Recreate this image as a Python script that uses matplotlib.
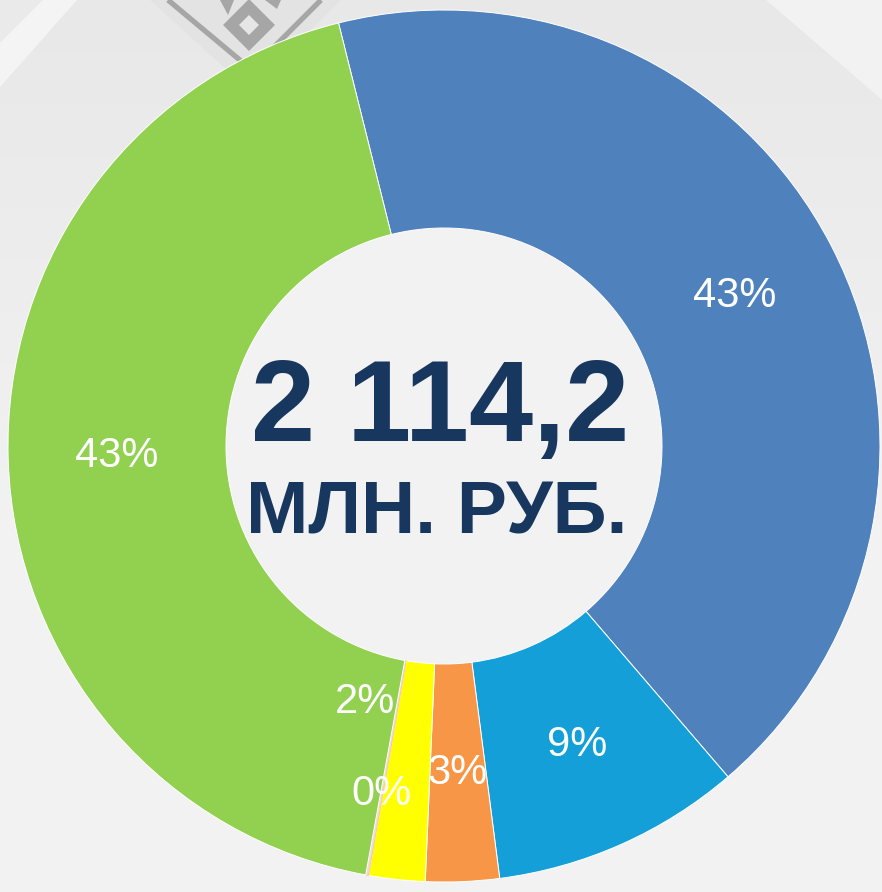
import numpy as np
import matplotlib.pyplot as plt
from matplotlib.patches import Polygon, Circle

# budget structure, mln rub (total 2 114,2)
values = [900.6, 195.6, 57.6, 44.1, 2.2, 914.1]
colors = ["#4F81BD", "#159FD9", "#F79646", "#FFFF00", "#F2DCDB", "#92D050"]
total_text = "2 114,2"
unit_text = "МЛН. РУБ."

W, H = 882, 892
BG = "#F2F2F2"
NAVY = "#17375E"


def py(y):
    # pixel row (from top) -> data y
    return H - y


fig = plt.figure(figsize=(W / 100, H / 100), dpi=100, facecolor=BG)
ax = fig.add_axes([0, 0, 1, 1])
ax.set_facecolor(BG)

# --- background: big faint diamond with a soft gradient
diamond = Polygon([(-420, py(560)), (375, py(-337)), (1300, py(460)), (375, py(1400))],
                  closed=True, facecolor="none", edgecolor="none")
ax.add_patch(diamond)
grad = np.linspace(0, 1, 256).reshape(-1, 1)
img = ax.imshow(grad, extent=(0, W, py(520), H), cmap=plt.matplotlib.colors.LinearSegmentedColormap.from_list(
    "bg", ["#F2F2F2", "#E8E8E8"]), aspect="auto", zorder=0, origin="lower")
img.set_clip_path(diamond)

# top-left corner bands
ax.add_patch(Polygon([(0, py(0)), (43, py(0)), (0, py(43))],
                     facecolor="#EAEAEA", edgecolor="none", zorder=1))
ax.add_patch(Polygon([(0, py(43)), (43, py(0)), (77, py(0)), (0, py(87))],
                     facecolor="#F4F4F4", edgecolor="none", zorder=1))

# ornament at the top
ax.add_patch(Polygon([(150, py(0)), (340, py(0)), (251, py(92))],
                     facecolor="#E3E3E3", edgecolor="none", zorder=1))
ax.plot([168, 253], [py(0), py(71)], color="#A6A6A6", lw=3.8, solid_capstyle="butt", zorder=2)
ax.plot([321, 249], [py(0), py(72)], color="#A6A6A6", lw=3.8, solid_capstyle="butt", zorder=2)
cx, cy = 249, 25
ax.add_patch(Polygon([(cx - 26, py(cy)), (cx, py(cy - 26)), (cx + 26, py(cy)), (cx, py(cy + 26))],
                     facecolor="#A6A6A6", edgecolor="none", zorder=2))
ax.add_patch(Polygon([(cx - 10, py(cy)), (cx, py(cy - 10)), (cx + 10, py(cy)), (cx, py(cy + 10))],
                     facecolor="#E6E6E6", edgecolor="none", zorder=3))
ax.add_patch(Polygon([(220, py(0)), (234, py(0)), (228, py(15))],
                     facecolor="#A6A6A6", edgecolor="none", zorder=2))
ax.add_patch(Polygon([(265, py(0)), (281, py(0)), (277, py(9))],
                     facecolor="#A6A6A6", edgecolor="none", zorder=2))

# --- donut
center = (444, py(446))
R = 436
ax.add_patch(Circle(center, R - 218, facecolor=BG, edgecolor="none", zorder=4))
wedges, texts, autotexts = ax.pie(
    values, colors=colors, startangle=104, counterclock=False,
    center=center, radius=R, pctdistance=0.75,
    autopct=lambda p: f"{p:.0f}%",
    wedgeprops=dict(width=218, edgecolor="white", linewidth=0.7),
    textprops=dict(color="white", fontsize=30, family="Liberation Sans"),
)
for w in wedges:
    w.set_zorder(5)
for t in autotexts:
    t.set_zorder(6)
wedges[4].set_edgecolor("#F4C7A8")

# labels for the thin slices were moved by hand in the original
z = wedges[4]
ang = np.deg2rad((z.theta1 + z.theta2) / 2)
autotexts[4].set_position((center[0] + 354 * np.cos(ang), center[1] + 354 * np.sin(ang)))
ang2 = ang - np.deg2rad(7)
autotexts[3].set_position((center[0] + 268 * np.cos(ang2), center[1] + 268 * np.sin(ang2)))

# --- center text
ax.text(440, py(441), total_text, ha="center", va="baseline", fontsize=83,
        fontweight="bold", color=NAVY, family="Liberation Sans", zorder=7)
ax.text(437, py(533), unit_text, ha="center", va="baseline", fontsize=54,
        fontweight="bold", color=NAVY, family="Liberation Sans", zorder=7)

ax.set_xlim(0, W)
ax.set_ylim(0, H)
ax.set_aspect("auto")
ax.axis("off")

fig.savefig("out.png", dpi=100, facecolor=BG)
